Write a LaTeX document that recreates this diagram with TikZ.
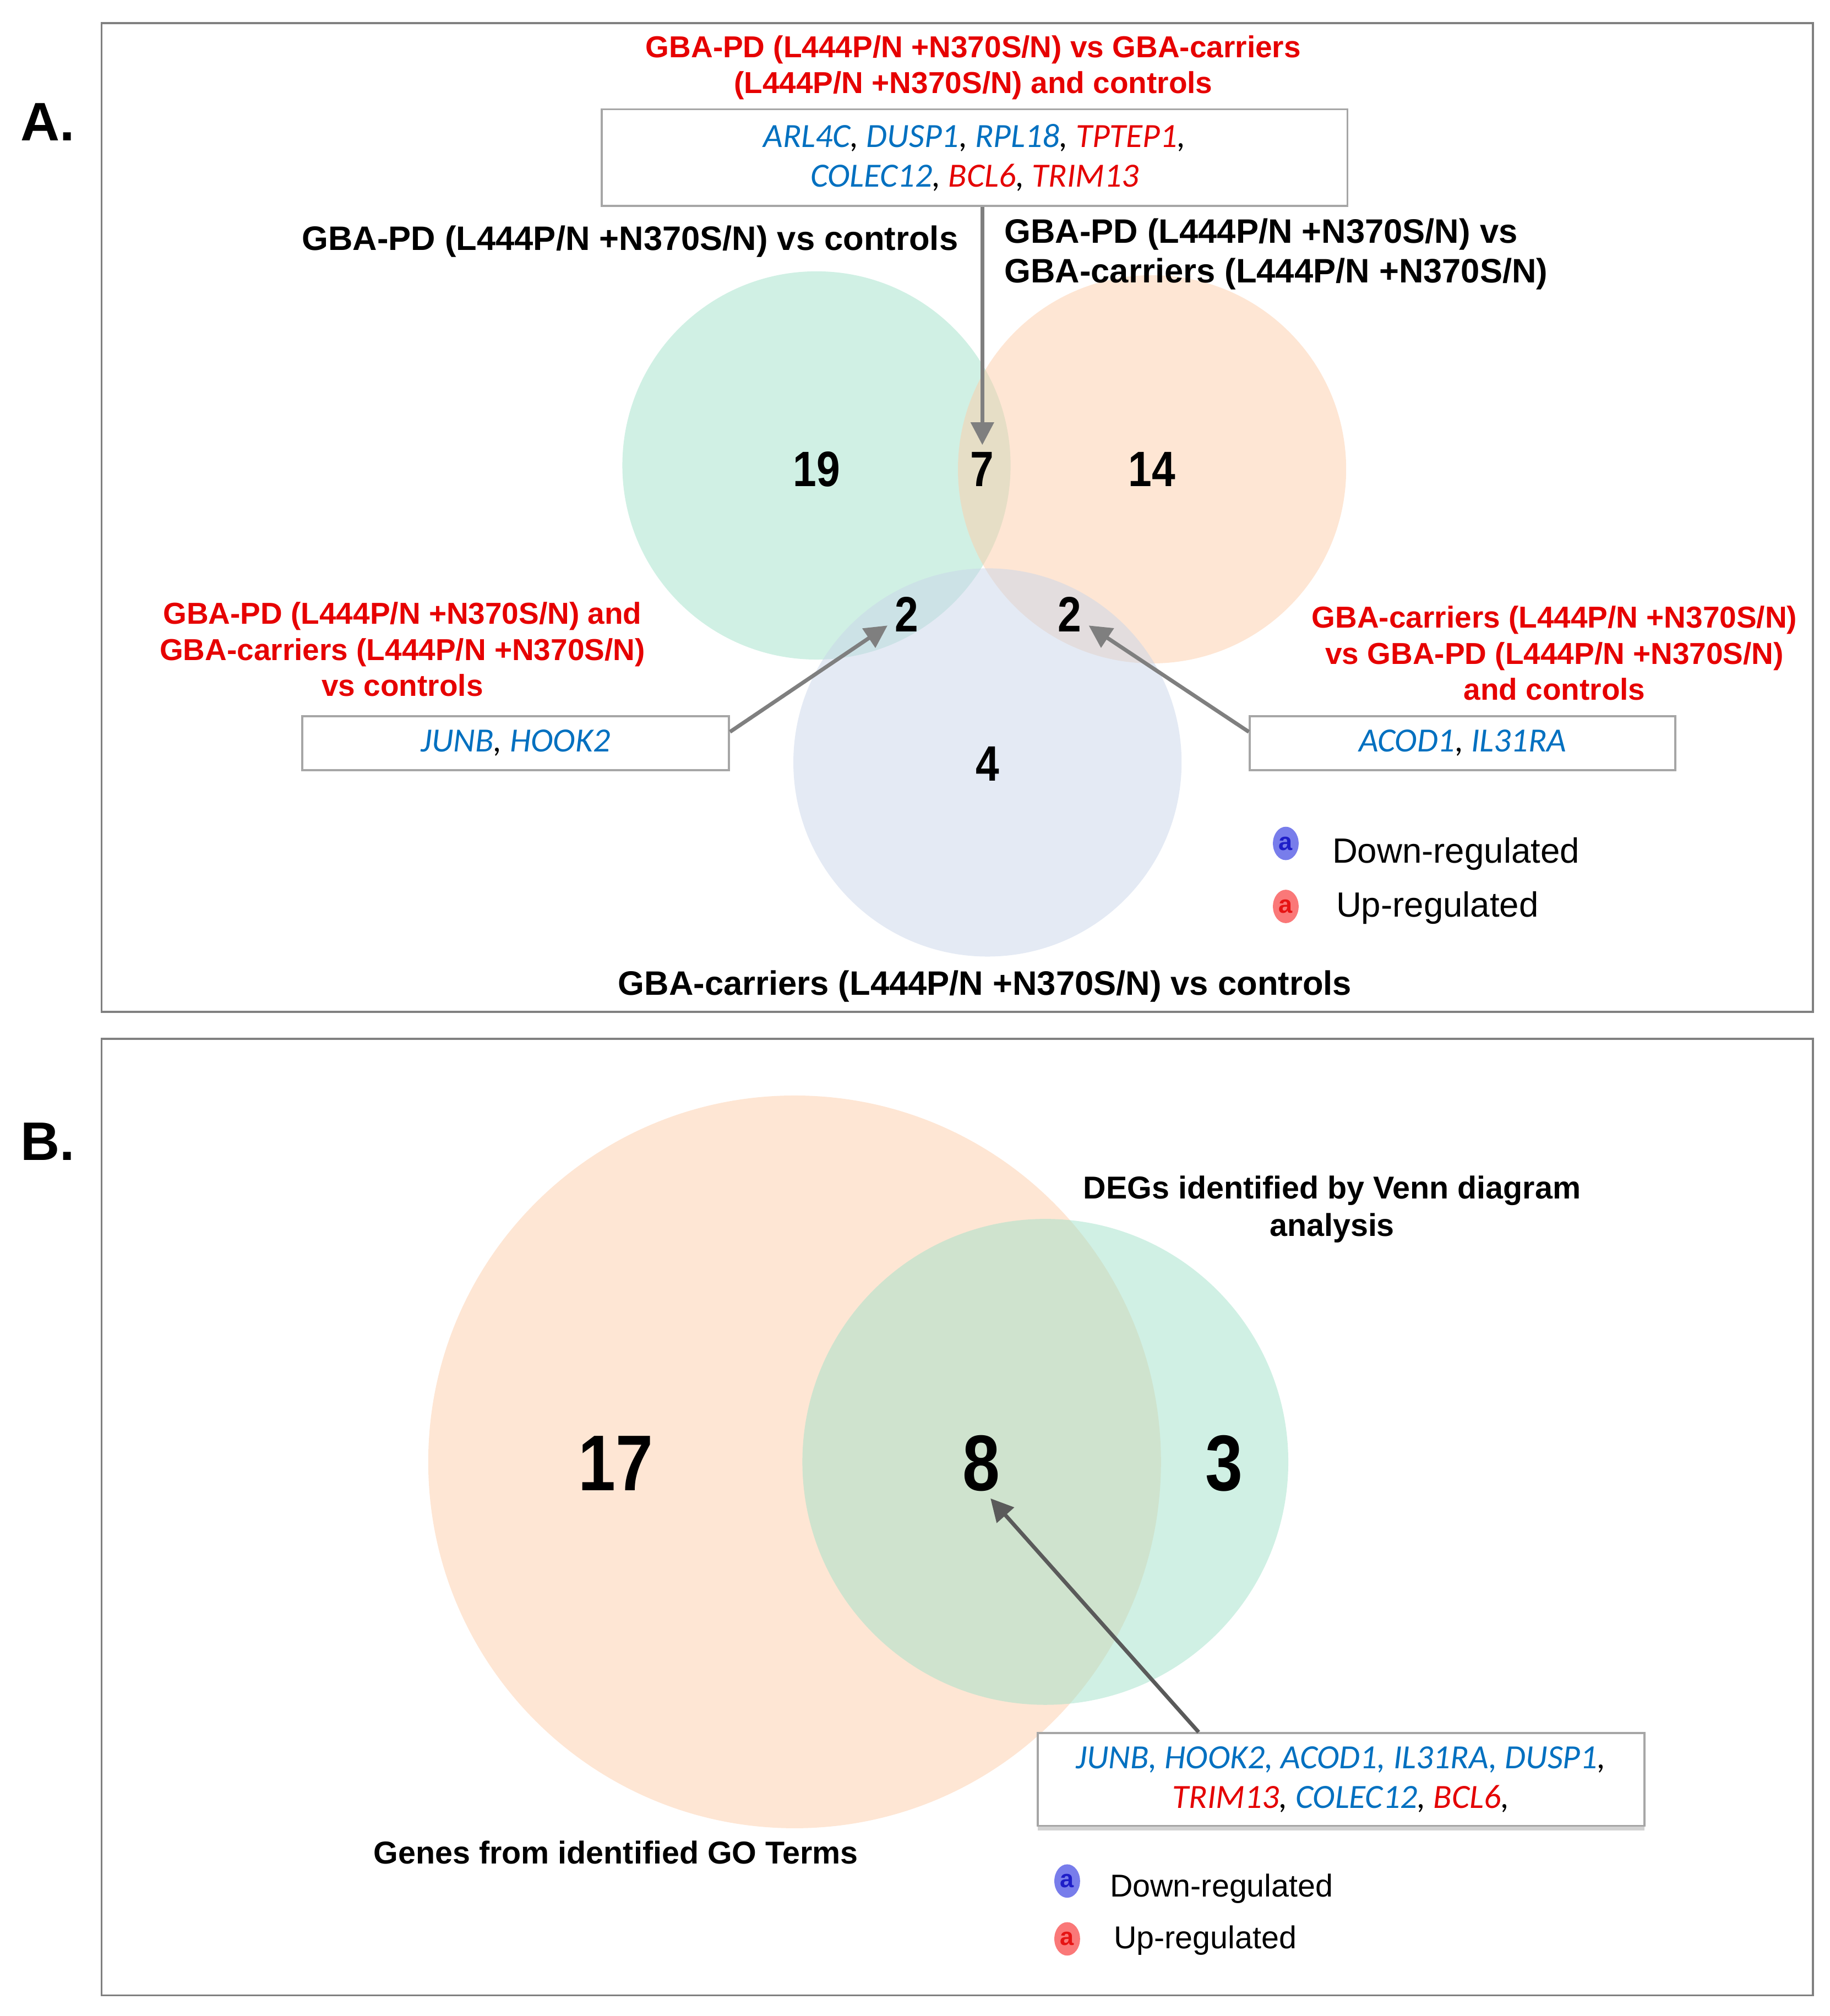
\documentclass[tikz,border=0pt]{standalone}
\usepackage{fontspec}
\setmainfont{Liberation Sans}
\newfontfamily\genefont{Carlito}
\newfontfamily\cntfont[FakeStretch=0.85]{Liberation Sans}
\usetikzlibrary{arrows.meta,shapes.geometric,shadows}
\definecolor{geneBlue}{RGB}{0,112,192}
\definecolor{geneRed}{RGB}{228,0,0}
\definecolor{cmpRed}{RGB}{230,0,0}
\definecolor{vennGrC}{RGB}{161,225,201}
\definecolor{vennOrC}{RGB}{253,205,169}
\definecolor{vennBlC}{RGB}{201,213,233}
\definecolor{frmGray}{RGB}{128,128,128}
\definecolor{boxGray}{RGB}{166,166,166}
\definecolor{arrGray}{RGB}{127,127,127}
\definecolor{arrDark}{RGB}{90,90,90}
\definecolor{legBlueC}{RGB}{120,125,235}
\definecolor{legBlueD}{RGB}{30,30,200}
\definecolor{legRedC}{RGB}{250,120,120}
\definecolor{legRedD}{RGB}{230,20,20}
\newcommand{\gB}[1]{\textcolor{geneBlue}{#1}}
\newcommand{\gR}[1]{\textcolor{geneRed}{#1}}
\begin{document}
\begin{tikzpicture}[x=0.02cm,y=-0.02cm,
    panelFrm/.style={draw=frmGray,line width=0.8pt},
    vennGr/.style={fill=vennGrC,fill opacity=0.5},
    vennOr/.style={fill=vennOrC,fill opacity=0.5},
    vennBl/.style={fill=vennBlC,fill opacity=0.5},
    panelLbl/.style={font=\bfseries\fontsize{24}{28}\selectfont},
    cntA/.style={font=\cntfont\bfseries\fontsize{22}{26}\selectfont,inner sep=3pt},
    cntB/.style={font=\cntfont\bfseries\fontsize{35}{40}\selectfont,inner sep=3pt},
    grpLbl/.style={font=\bfseries\fontsize{15}{17.6}\selectfont,align=center},
    degLbl/.style={font=\bfseries\fontsize{14}{16.4}\selectfont,align=center},
    cmpLbl/.style={text=cmpRed,font=\bfseries\fontsize{13.4}{15.9}\selectfont,align=center},
    geneBox/.style={rectangle,draw=boxGray,line width=0.9pt,fill=white,align=center,font=\genefont\itshape\fontsize{15}{17.6}\selectfont},
    ptrArr/.style={-{Triangle[width=10pt,length=10pt]},draw=arrGray,line width=1.7pt},
    legIcon/.style={ellipse,minimum width=0.4cm,minimum height=0.52cm,inner sep=0pt,font=\bfseries\fontsize{11}{11}\selectfont},
    legTxt/.style={anchor=west,font=\fontsize{15.5}{18}\selectfont},
]
\useasboundingbox (0,0) rectangle (1423,1568);
\draw[panelFrm] (79,18) rectangle (1410,787);
\draw[panelFrm] (79,808) rectangle (1410,1552);
\node[panelLbl] (lblA) at (37,95) {A.};
\node[panelLbl] (lblB) at (37,888) {B.};
\fill[vennGr] (635,362) circle[radius=3.02cm];
\fill[vennOr] (896,365) circle[radius=3.02cm];
\fill[vennBl] (768,593) circle[radius=3.02cm];
\node[cntA] (n19) at (635,365) {19};
\node[cntA] (n7) at (764,365) {7};
\node[cntA] (n14) at (896,365) {14};
\node[cntA] (n2L) at (705,478) {2};
\node[cntA] (n2R) at (832,478) {2};
\node[cntA] (n4) at (768,594) {4};
\node[cmpLbl] (cmpTop) at (757,52.5) {GBA-PD (L444P/N +N370S/N) vs GBA-carriers\\(L444P/N +N370S/N) and controls};
\node[geneBox,minimum width=11.6cm,minimum height=1.5cm] (geneTop) at (758,122.5) {\gB{ARL4C}, \gB{DUSP1}, \gB{RPL18}, \gR{TPTEP1},\\\gB{COLEC12}, \gR{BCL6}, \gR{TRIM13}};
\node[grpLbl] (grpGr) at (490,188) {GBA-PD (L444P/N +N370S/N) vs controls};
\node[grpLbl,align=left,anchor=west] (grpOr) at (775,197.5) {GBA-PD (L444P/N +N370S/N) vs\\GBA-carriers (L444P/N +N370S/N)};
\node[cmpLbl] (cmpLeft) at (313,505) {GBA-PD (L444P/N +N370S/N) and\\GBA-carriers (L444P/N +N370S/N)\\vs controls};
\node[cmpLbl] (cmpRight) at (1209,508) {GBA-carriers (L444P/N +N370S/N)\\vs GBA-PD (L444P/N +N370S/N)\\and controls};
\node[geneBox,minimum width=6.64cm,minimum height=0.84cm] (geneL) at (401,578) {\gB{JUNB}, \gB{HOOK2}};
\node[geneBox,minimum width=6.62cm,minimum height=0.84cm] (geneR) at (1137.5,578) {\gB{ACOD1}, \gB{IL31RA}};
\node[grpLbl] (grpBl) at (766,767) {GBA-carriers (L444P/N +N370S/N) vs controls};
\draw[ptrArr] (geneTop.south -| n7) -- (n7.north);
\draw[ptrArr] ([yshift=5pt]geneL.east) -- (n2L.210);
\draw[ptrArr] ([yshift=5pt]geneR.west) -- (n2R.-30);
\node[legIcon,fill=legBlueC] (icDnA) at (1000,656) {\textcolor{legBlueD}{a}};
\node[legIcon,fill=legRedC] (icUpA) at (1000,705) {\textcolor{legRedD}{a}};
\node[legTxt] (txDnA) at (1030,664) {Down-regulated};
\node[legTxt] (txUpA) at (1033,706) {Up-regulated};
\fill[vennOr] (618,1137) circle[radius=5.7cm];
\fill[vennGr] (813,1137) circle[radius=3.78cm];
\node[cntB] (n17) at (479,1138) {17};
\node[cntB] (n8) at (763,1138) {8};
\node[cntB] (n3) at (952,1138) {3};
\node[degLbl] (degLbl) at (1036,940.5) {DEGs identified by Venn diagram\\analysis};
\node[degLbl] (goLbl) at (479,1441) {Genes from identified GO Terms};
\node[geneBox,minimum width=9.44cm,minimum height=1.44cm,drop shadow={shadow xshift=0pt,shadow yshift=-2pt,fill=boxGray}] (geneB) at (1043,1384) {\gB{JUNB, HOOK2, ACOD1, IL31RA, DUSP1}, \\\gR{TRIM13}, \gB{COLEC12}, \gR{BCL6},};
\draw[ptrArr,draw=arrDark] ([xshift=2.52cm]geneB.north west) -- (n8.-75);
\node[legIcon,fill=legBlueC] (icDnB) at (830,1463) {\textcolor{legBlueD}{a}};
\node[legIcon,fill=legRedC] (icUpB) at (830,1508) {\textcolor{legRedD}{a}};
\node[legTxt,font=\fontsize{14}{16}\selectfont] (txDnB) at (857,1469) {Down-regulated};
\node[legTxt,font=\fontsize{14}{16}\selectfont] (txUpB) at (860,1509) {Up-regulated};
\end{tikzpicture}
\end{document}
